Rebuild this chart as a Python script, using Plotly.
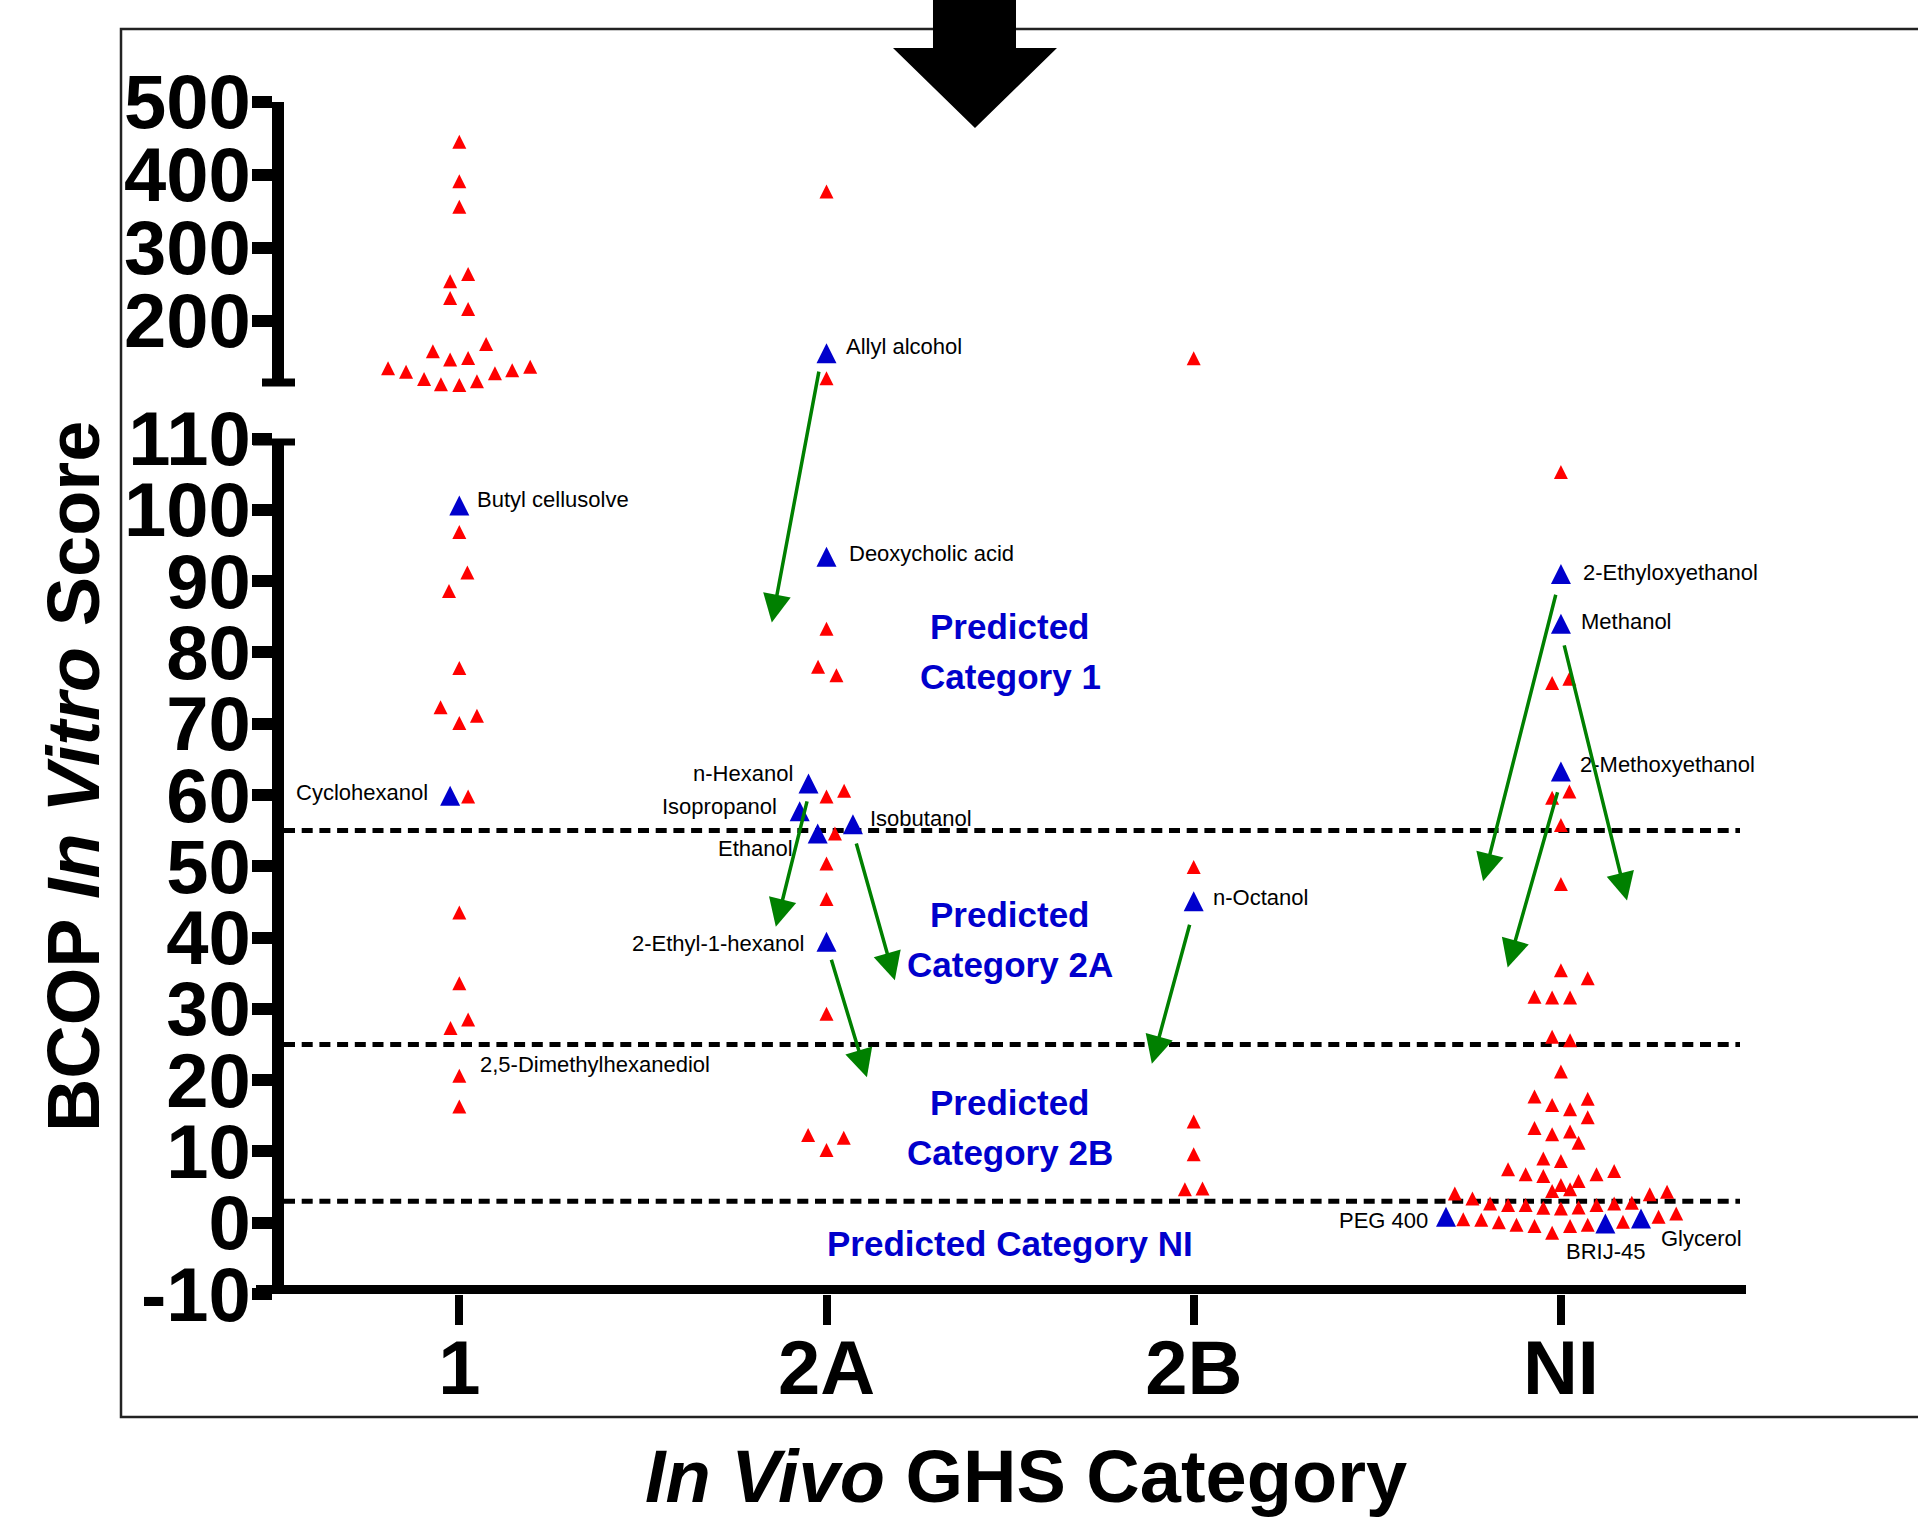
import plotly.graph_objects as go

W, H = 1918, 1519

# ---------------- data ----------------
categories = ["1", "2A", "2B", "NI"]
category_x = [1, 2, 3, 4]
threshold_values = [55, 25, 3]
lower_range = [-10, 110]
upper_range = [110, 500]
lower_ticks = [-10, 0, 10, 20, 30, 40, 50, 60, 70, 80, 90, 100, 110]
upper_ticks = [200, 300, 400, 500]
BREAK = 110

# red triangles: BCOP in vitro score and horizontal scatter offset (category units)
cat1_scores = [445, 391, 356, 264, 254, 231, 216, 168, 158, 149, 147, 137, 135, 132, 130, 128, 120, 117, 113, 112,
               96.9, 91.2, 88.6, 77.8, 72.3, 71.1, 70.1, 59.8, 43.5, 33.6, 28.5, 27.3, 20.6, 16.3]
cat1_offsets = [0, 0, 0, 0.024, -0.025, -0.025, 0.024, 0.073, -0.072, 0.024, -0.025, 0.193, -0.194, 0.144, -0.145,
                0.097, -0.096, 0.048, -0.050, 0,
                0, 0.022, -0.028, 0, -0.051, 0.048, 0, 0.024, 0, 0, 0.024, -0.024, 0, 0]

cat2a_scores = [377, 121, 83.3, 78.0, 76.8, 60.6, 59.8, 54.6, 50.4, 45.4, 29.3, 12.3, 11.9, 10.2]
cat2a_offsets = [0, 0, 0, -0.023, 0.027, 0.048, 0, 0.023, 0, 0, 0, -0.05, 0.047, 0]

cat2b_scores = [148.5, 49.9, 14.2, 9.6, 4.8, 4.7]
cat2b_offsets = [0, 0, 0, 0, 0.024, -0.024]

catni_scores = [105.3, 76.3, 75.7, 60.5, 59.6, 55.8, 47.5,
                35.4, 34.3, 31.7, 31.6, 31.6, 26.1, 25.6,
                21.2, 17.7, 17.4, 16.5, 15.9, 14.8, 13.3, 12.8, 12.4, 11.2,
                9.0, 8.65, 7.5, 7.25, 6.8, 6.8, 6.55, 5.85, 5.3, 4.7, 4.45,
                4.35, 4.1, 4.0, 3.4,
                2.8, 2.7, 2.7, 2.5, 2.5, 2.5, 2.15, 2.1, 2.0,
                1.3, 0.85, 0.5, 0.4, 0.15, 0.05, -0.3, -0.3, -0.45, -0.45, -1.4]
catni_offsets = [0, 0.023, -0.024, 0.023, -0.024, 0, 0,
                 0, 0.073, -0.072, -0.024, 0.025, -0.024, 0.025,
                 0, -0.072, 0.073, -0.024, 0.025, 0.073, -0.072, 0.025, -0.024, 0.048,
                 -0.048, 0, -0.144, 0.145, -0.096, 0.097, -0.048, 0.048, 0, 0.025, -0.024,
                 0.289, -0.289, 0.242, -0.241,
                 0.193, -0.193, 0.145, -0.144, -0.096, 0.097, 0.048, -0.048, 0,
                 0.314, 0.266, -0.266, -0.217, 0.169, -0.169, -0.121, 0.073, -0.072, 0.025, -0.024]

# blue triangles: labelled substances
blue_names = ["Butyl cellusolve", "Cyclohexanol", "Allyl alcohol", "Deoxycholic acid", "n-Hexanol",
              "Isopropanol", "Isobutanol", "Ethanol", "2-Ethyl-1-hexanol", "n-Octanol",
              "2-Ethyloxyethanol", "Methanol", "2-Methoxyethanol", "PEG 400", "Glycerol", "BRIJ-45"]
blue_category = [0, 0, 1, 1, 1, 1, 1, 1, 1, 2, 3, 3, 3, 3, 3, 3]
blue_scores = [100.6, 59.9, 155.3, 93.4, 61.6, 57.7, 55.9, 54.6, 39.4, 45.1, 91.0, 84.0, 63.3, 0.85, 0.6, -0.1]
blue_offsets = [0, -0.025, 0, 0, -0.049, -0.073, 0.072, -0.024, 0, 0, 0, 0, 0, -0.313, 0.218, 0.121]

# extra text label attached to a red point
extra_label_names = ["2,5-Dimethylhexanediol"]
extra_label_category = [0]
extra_label_scores = [20.6]

# green shift arrows (tail -> head), x in category units, y in lower-axis score units
arrow_tail_x = [1.980, 1.948, 2.080, 2.012, 2.990, 3.987, 4.008, 3.992]
arrow_tail_y = [119.6, 59.3, 53.4, 37.1, 42.0, 88.3, 81.2, 60.6]
arrow_head_x = [1.851, 1.862, 2.186, 2.110, 2.886, 3.788, 4.180, 3.855]
arrow_head_y = [84.2, 41.5, 34.0, 20.4, 22.3, 47.9, 45.2, 35.8]

# blue "Predicted Category" texts
predicted_lines = ["Predicted", "Category 1", "Predicted", "Category 2A", "Predicted", "Category 2B",
                   "Predicted Category NI"]
predicted_line_y = [83.7, 76.6, 43.2, 36.2, 16.9, 9.9, -2.85]
predicted_x = 2.5

# ---------------- styling / layout ----------------
FONT = "Liberation Sans, Arial, Helvetica, sans-serif"
RED = "#FF0000"
BLUE = "#0000CC"
GREEN = "#008000"
RED_SIZE, BLUE_SIZE = 14, 20

X_L, X_R = 284, 1740
LOW_TOP, LOW_BOT = 438.5, 1294
UP_TOP, UP_BOT = 101.7, 386.4


def ydom(top_px, bot_px, lift=0.0):
    return [(H - bot_px + lift) / H, (H - top_px + lift) / H]


label_style = {
    "Butyl cellusolve": ("left", 18, 6),
    "Cyclohexanol": ("right", -22, 3),
    "Allyl alcohol": ("left", 19, 7),
    "Deoxycholic acid": ("left", 22, 3),
    "n-Hexanol": ("right", -16, 10),
    "Isopropanol": ("right", -23, 5),
    "Isobutanol": ("left", 17, 6),
    "Ethanol": ("right", -25, -15),
    "2-Ethyl-1-hexanol": ("right", -23, -2),
    "n-Octanol": ("left", 19, 4),
    "2-Ethyloxyethanol": ("left", 22, 1),
    "Methanol": ("left", 20, 2),
    "2-Methoxyethanol": ("left", 19, 7),
    "PEG 400": ("right", -18, -4),
    "Glycerol": ("left", 20, -20),
    "BRIJ-45": ("center", 0, -28),
    "2,5-Dimethylhexanediol": ("left", 21, 11),
}

groups = [(cat1_scores, cat1_offsets), (cat2a_scores, cat2a_offsets),
          (cat2b_scores, cat2b_offsets), (catni_scores, catni_offsets)]
red_lo_x, red_lo_y, red_hi_x, red_hi_y = [], [], [], []
for cx, (sc, off) in zip(category_x, groups):
    for s, o in zip(sc, off):
        if s > BREAK:
            red_hi_x.append(cx + o)
            red_hi_y.append(s)
        else:
            red_lo_x.append(cx + o)
            red_lo_y.append(s)

blue_lo_x, blue_lo_y, blue_hi_x, blue_hi_y = [], [], [], []
for ci, s, o in zip(blue_category, blue_scores, blue_offsets):
    if s > BREAK:
        blue_hi_x.append(category_x[ci] + o)
        blue_hi_y.append(s)
    else:
        blue_lo_x.append(category_x[ci] + o)
        blue_lo_y.append(s)

fig = go.Figure()


def add_pts(xs, ys, yaxis, color, size):
    fig.add_trace(go.Scatter(x=xs, y=ys, xaxis="x", yaxis=yaxis, mode="markers", cliponaxis=False,
                             hoverinfo="skip",
                             marker=dict(symbol="arrow-up", size=size, color=color, line=dict(width=0))))


add_pts(red_lo_x, red_lo_y, "y3", RED, RED_SIZE)
add_pts(red_hi_x, red_hi_y, "y5", RED, RED_SIZE)
add_pts(blue_lo_x, blue_lo_y, "y4", BLUE, BLUE_SIZE)
add_pts(blue_hi_x, blue_hi_y, "y6", BLUE, BLUE_SIZE)

tickfont = dict(family=FONT, size=76, color="black", weight="bold")
common_y = dict(anchor="x", showgrid=False, zeroline=False, showline=True, linewidth=12, linecolor="black",
                ticks="outside", ticklen=20, tickwidth=12, tickcolor="black", tickfont=tickfont,
                ticklabelstandoff=-14, automargin=False, fixedrange=True, tickmode="array")
hidden = dict(anchor="x", visible=False, showgrid=False, zeroline=False, fixedrange=True)

shapes = []
for v in threshold_values:
    shapes.append(dict(type="line", xref="x domain", yref="y", x0=0, x1=1, y0=v, y1=v, layer="below",
                       line=dict(color="black", width=5, dash="11px,6.7px")))
xlen = X_R - X_L
# x axis line at bottom of lower segment
shapes.append(dict(type="line", xref="x domain", yref="y", x0=(256 - X_L) / xlen, x1=(1746 - X_L) / xlen,
                   y0=lower_range[0], y1=lower_range[0], line=dict(color="black", width=18), layer="above"))
# break caps
shapes.append(dict(type="line", xref="x domain", yref="y", x0=(253 - X_L) / xlen, x1=(295 - X_L) / xlen,
                   y0=lower_range[1], y1=lower_range[1], line=dict(color="black", width=14), layer="above"))
shapes.append(dict(type="line", xref="x domain", yref="y2", x0=(262 - X_L) / xlen, x1=(295 - X_L) / xlen,
                   y0=upper_range[0], y1=upper_range[0], line=dict(color="black", width=16), layer="above"))
# frame
shapes.append(dict(type="rect", xref="paper", yref="paper", x0=121 / W, x1=1.02, y0=1 - 1417 / H, y1=1 - 29 / H,
                   line=dict(color="#222222", width=2.5), fillcolor="rgba(0,0,0,0)", layer="below"))
# big block arrow at top
pts = [(933, 0), (1016, 0), (1016, 48), (1057, 48), (975, 128), (893, 48), (933, 48)]
path = "M " + " L ".join(f"{x / W:.5f},{1 - y / H:.5f}" for x, y in pts) + " Z"
shapes.append(dict(type="path", xref="paper", yref="paper", path=path, fillcolor="black",
                   line=dict(color="black", width=0), layer="above"))

annotations = []
label_font = dict(family=FONT, size=22, color="black")
for name, ci, s, o in zip(blue_names, blue_category, blue_scores, blue_offsets):
    xa, dx, dy = label_style[name]
    annotations.append(dict(x=category_x[ci] + o, y=s, xref="x", yref="y2" if s > BREAK else "y",
                            text=name, showarrow=False, xanchor=xa, yanchor="middle", xshift=dx, yshift=dy,
                            borderpad=0, borderwidth=0, font=label_font))
for name, ci, s in zip(extra_label_names, extra_label_category, extra_label_scores):
    xa, dx, dy = label_style[name]
    annotations.append(dict(x=category_x[ci], y=s, xref="x", yref="y", text=name, showarrow=False,
                            xanchor=xa, yanchor="middle", xshift=dx, yshift=dy, borderpad=0, borderwidth=0,
                            font=label_font))
for tx, ty, hx, hy in zip(arrow_tail_x, arrow_tail_y, arrow_head_x, arrow_head_y):
    annotations.append(dict(x=hx, y=hy, ax=tx, ay=ty, xref="x", yref="y", axref="x", ayref="y", text="",
                            showarrow=True, arrowhead=2, arrowsize=1.6, arrowwidth=3.5, arrowcolor=GREEN,
                            standoff=0, startstandoff=0))
for txt, yv in zip(predicted_lines, predicted_line_y):
    annotations.append(dict(x=predicted_x, y=yv, xref="x", yref="y", text=txt, showarrow=False,
                            xanchor="center", yanchor="middle", borderpad=0, borderwidth=0,
                            font=dict(family=FONT, size=35, color=BLUE, weight="bold")))
annotations.append(dict(x=73.5 / W, y=1 - 776.6 / H, xref="paper", yref="paper", textangle=-90,
                        text="BCOP <i>In Vitro</i> Score", showarrow=False, xanchor="center", yanchor="middle",
                        borderpad=0, borderwidth=0,
                        font=dict(family=FONT, size=74, color="black", weight="bold")))
annotations.append(dict(x=1025.6 / W, y=1 - 1476 / H, xref="paper", yref="paper",
                        text="<i>In Vivo</i> GHS Category", showarrow=False, xanchor="center", yanchor="middle",
                        borderpad=0, borderwidth=0,
                        font=dict(family=FONT, size=74, color="black", weight="bold")))

fig.update_layout(
    width=W, height=H, margin=dict(l=0, r=0, t=0, b=0, autoexpand=False),
    paper_bgcolor="white", plot_bgcolor="rgba(0,0,0,0)", showlegend=False, hovermode=False,
    template="none",
    xaxis=dict(domain=[X_L / W, X_R / W], range=[0.5226, 4.4877], anchor="y", tickmode="array",
               tickvals=category_x, ticktext=categories, ticks="outside", ticklen=30, tickwidth=8,
               tickcolor="black", showline=False, showgrid=False, zeroline=False, tickfont=tickfont,
               ticklabelstandoff=-22, automargin=False, fixedrange=True),
    yaxis=dict(domain=ydom(LOW_TOP, LOW_BOT), range=lower_range, tickvals=lower_ticks,
               ticktext=[str(v) for v in lower_ticks], **common_y),
    yaxis2=dict(domain=ydom(UP_TOP, UP_BOT), range=upper_range, tickvals=upper_ticks,
                ticktext=[str(v) for v in upper_ticks], **common_y),
    yaxis3=dict(domain=ydom(LOW_TOP, LOW_BOT, RED_SIZE / 2), range=lower_range, **hidden),
    yaxis4=dict(domain=ydom(LOW_TOP, LOW_BOT, BLUE_SIZE / 2), range=lower_range, **hidden),
    yaxis5=dict(domain=ydom(UP_TOP, UP_BOT, RED_SIZE / 2), range=upper_range, **hidden),
    yaxis6=dict(domain=ydom(UP_TOP, UP_BOT, BLUE_SIZE / 2), range=upper_range, **hidden),
    shapes=shapes, annotations=annotations,
)

fig.write_html("out.html", config={"displayModeBar": False})
